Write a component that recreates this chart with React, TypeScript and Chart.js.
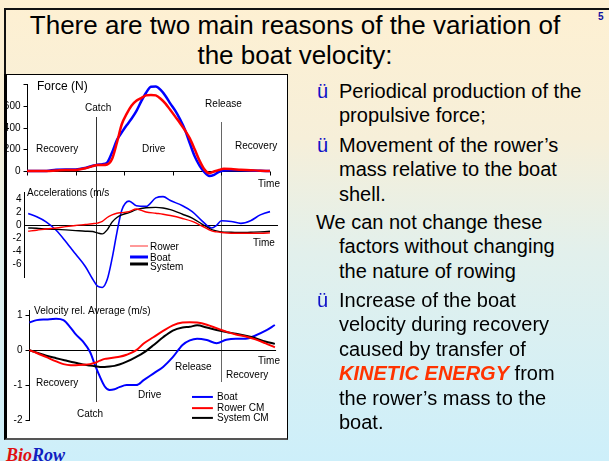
import React, { useEffect, useRef } from "react";
import { Chart, registerables } from "chart.js";
Chart.register(...registerables);

const FONT = '"Liberation Sans", Arial, Helvetica, sans-serif';

// ---------------- DATA ----------------
// Force (N) vs time (% of stroke cycle)
const forceT = [0, 8, 12, 16, 20, 24, 27, 29, 31, 33, 35, 37, 39, 41, 43, 45, 47, 49, 51, 53, 55, 57, 59, 61, 63, 65, 67, 69, 71, 73, 75, 77, 79, 81, 84, 88, 92, 96, 100];
const forceBlue = [0, 0, 12, 14, 14, 28, 48, 58, 62, 78, 170, 285, 355, 420, 480, 550, 640, 720, 775, 778, 745, 690, 620, 555, 475, 380, 255, 135, 50, -10, -45, -35, -8, 5, 8, 6, 4, 2, 0];
const forceRed = [0, 0, 5, 10, 10, 25, 45, 55, 55, 60, 110, 260, 430, 525, 600, 645, 670, 695, 700, 695, 665, 620, 560, 500, 440, 375, 300, 200, 95, 15, -20, -5, 10, 20, 18, 12, 8, 3, 0];
const forceTicks = [0, 200, 400, 600, 800];
const forceTickLabels = ["0", "200", "400", "600", ""];
const forceTimeTicks = [0, 20, 40, 60, 80, 100];

// Accelerations (m/s2)
const accelT = [0.5, 4, 8, 12, 16, 20, 24, 27, 29, 31, 33, 35, 37, 39, 42, 45, 49, 53, 56, 59, 64, 68, 72, 76, 78, 80, 84, 88, 92, 96, 100, 103];
const accelRower = [-1.0, -0.85, -0.65, -0.5, -0.3, -0.12, 0.03, 0.15, 0.25, 0.5, 1.1, 1.5, 1.75, 1.85, 2.0, 2.4, 1.95, 1.75, 1.6, 1.4, 0.95, 0.5, -0.2, -0.95, -1.1, -1.2, -1.3, -1.3, -1.3, -1.3, -1.25, -1.2];
const accelBoat = [1.7, 1.2, 0.4, -0.85, -2.6, -4.5, -6.4, -8.3, -9.4, -9.6, -8.4, -5.2, -1.2, 2.2, 3.6, 2.9, 2.8, 4.1, 4.3, 3.7, 2.9, 2.0, 0.6, -0.5, -0.1, 0.6, 0.5, 0.2, 0.6, 1.5, 2.0, 2.2];
const accelSystem = [-0.5, -0.55, -0.65, -0.72, -0.8, -0.9, -1.0, -1.05, -1.25, -1.4, -0.8, 0.4, 1.1, 1.5, 1.85, 2.3, 2.6, 2.65, 2.55, 2.3, 1.6, 1.0, 0.1, -0.75, -0.95, -1.1, -1.15, -1.2, -1.15, -1.1, -1.0, -0.9];
const accelTicks = [-6, -4, -2, 0, 2, 4];
const accelTickLabels = ["-6", "-4", "-2", "0", "2", "4"];

// Velocity relative to average (m/s)
const velT = [1, 4, 8, 12, 15, 18, 20, 23, 26, 28, 30, 32, 34, 36, 38, 41, 45, 48, 52, 56, 60, 64, 67, 70, 74, 78, 82, 86, 90, 94, 98, 102];
const velBoat = [0.79, 0.86, 0.88, 0.9, 0.86, 0.64, 0.46, 0.25, -0.06, -0.43, -0.76, -1.04, -1.14, -1.12, -1.06, -1.0, -1.0, -0.86, -0.67, -0.48, -0.2, 0.15, 0.28, 0.33, 0.29, 0.2, 0.3, 0.33, 0.33, 0.42, 0.55, 0.72];
const velRower = [0, -0.08, -0.2, -0.32, -0.4, -0.43, -0.43, -0.42, -0.4, -0.36, -0.3, -0.25, -0.23, -0.21, -0.19, -0.13, 0.0, 0.19, 0.37, 0.55, 0.71, 0.79, 0.8, 0.79, 0.73, 0.63, 0.53, 0.45, 0.39, 0.31, 0.2, 0.08];
const velSystem = [0, -0.07, -0.16, -0.23, -0.28, -0.33, -0.36, -0.41, -0.44, -0.46, -0.48, -0.48, -0.47, -0.45, -0.41, -0.33, -0.19, -0.07, 0.14, 0.37, 0.56, 0.65, 0.67, 0.71, 0.65, 0.58, 0.52, 0.47, 0.41, 0.34, 0.25, 0.18];
const velTicks = [-2, -1, 0, 1];
const velTickLabels = ["-2", "-1", "0", "1"];

const CATCH_T = 28.4;
const RELEASE_T = 79.8;

// ---------------- TYPES ----------------
type Series = { values: number[]; color: string; width: number };
type Note = { text: string; t: number; v: number; size?: number };
type VLine = { t: number; from: number; to: number; color: string };
type LegendItem = { text: string; color: string; width: number; v: number; tv: number };
type PanelCfg = {
  top: number;
  width: number;
  height: number;
  padding: { left: number; right: number; top: number; bottom: number };
  xMin: number;
  xMax: number;
  yMin: number;
  yMax: number;
  t: number[];
  series: Series[];
  axisT: number;
  axisFrom: number;
  axisTo: number;
  yTicks: number[];
  yTickLabels: string[];
  yTickLen: number;
  zeroFrom: number;
  zeroTo: number;
  xTicks: number[];
  xTickLen: number;
  vlines: VLine[];
  notes: Note[];
  legend?: { t0: number; t1: number; tText: number; items: LegendItem[] };
};

const PAD_X = { left: 20, right: 17 };

const panels: PanelCfg[] = [
  {
    top: 75, width: 280, height: 125,
    padding: { ...PAD_X, top: 9, bottom: 29 },
    xMin: 0, xMax: 100, yMin: 0, yMax: 800,
    t: forceT,
    series: [
      { values: forceRed, color: "#FF0000", width: 2.5 },
      { values: forceBlue, color: "#0000FF", width: 2.5 },
    ],
    axisT: 0, axisFrom: 0, axisTo: 800,
    yTicks: forceTicks, yTickLabels: forceTickLabels, yTickLen: 4,
    zeroFrom: 0, zeroTo: 100, xTicks: forceTimeTicks, xTickLen: 4,
    vlines: [
      { t: CATCH_T, from: 497, to: -175, color: "#333" },
      { t: RELEASE_T, from: 451, to: -175, color: "#666" },
    ],
    notes: [
      { text: "Force (N)", t: 4.1, v: 772, size: 12 },
      { text: "Catch", t: 23.9, v: 579 },
      { text: "Release", t: 73.3, v: 616 },
      { text: "Recovery", t: 3.7, v: 202 },
      { text: "Drive", t: 47.3, v: 202 },
      { text: "Recovery", t: 85.6, v: 230 },
      { text: "Time", t: 95.1, v: -120 },
    ],
  },
  {
    top: 180, width: 280, height: 125,
    padding: { ...PAD_X, top: 12, bottom: 28 },
    xMin: 0, xMax: 100, yMin: -8, yMax: 5,
    t: accelT,
    series: [
      { values: accelRower, color: "#FF0000", width: 1.4 },
      { values: accelSystem, color: "#000000", width: 1.4 },
      { values: accelBoat, color: "#0000FF", width: 1.6 },
    ],
    axisT: -1.2, axisFrom: -8, axisTo: 5,
    yTicks: accelTicks, yTickLabels: accelTickLabels, yTickLen: 0,
    zeroFrom: -0.8, zeroTo: 103.3, xTicks: [], xTickLen: 0,
    vlines: [
      { t: CATCH_T, from: 5.31, to: -11.21, color: "#333" },
      { t: RELEASE_T, from: 5.31, to: -11.21, color: "#666" },
    ],
    notes: [
      { text: "Accelerations (m/s", t: 0, v: 4.85 },
      { text: "Time", t: 93, v: -2.8 },
    ],
    legend: {
      t0: 42.4, t1: 49.8, tText: 50.6,
      items: [
        { text: "Rower", color: "#FF3333", width: 1, v: -3.26, tv: -3.41 },
        { text: "Boat", color: "#0000FF", width: 3, v: -4.94, tv: -5.09 },
        { text: "System", color: "#000000", width: 3, v: -6.01, tv: -6.47 },
      ],
    },
  },
  {
    top: 290, width: 280, height: 148,
    padding: { ...PAD_X, top: 20, bottom: 18 },
    xMin: 0, xMax: 100, yMin: -2, yMax: 1.15,
    t: velT,
    series: [
      { values: velRower, color: "#FF0000", width: 2 },
      { values: velSystem, color: "#000000", width: 2 },
      { values: velBoat, color: "#0000FF", width: 2 },
    ],
    axisT: 0.8, axisFrom: -2, axisTo: 1.15,
    yTicks: velTicks, yTickLabels: velTickLabels, yTickLen: 4,
    zeroFrom: 0.8, zeroTo: 102.5, xTicks: [], xTickLen: 0,
    vlines: [
      { t: CATCH_T, from: 1.494, to: -1.485, color: "#333" },
      { t: RELEASE_T, from: 1.494, to: -0.912, color: "#666" },
    ],
    notes: [
      { text: "Velocity rel. Average (m/s)", t: 2.9, v: 1.12 },
      { text: "Recovery", t: 3.7, v: -0.94 },
      { text: "Catch", t: 20.6, v: -1.83 },
      { text: "Drive", t: 45.7, v: -1.28 },
      { text: "Release", t: 60.9, v: -0.48 },
      { text: "Recovery", t: 81.9, v: -0.71 },
      { text: "Time", t: 95.1, v: -0.31 },
    ],
    legend: {
      t0: 67.9, t1: 76.5, tText: 78.2,
      items: [
        { text: "Boat", color: "#0000FF", width: 2, v: -1.34, tv: -1.34 },
        { text: "Rower CM", color: "#FF0000", width: 2, v: -1.66, tv: -1.66 },
        { text: "System CM", color: "#000000", width: 2, v: -1.94, tv: -1.94 },
      ],
    },
  },
];

function overlayPlugin(cfg: PanelCfg) {
  return {
    id: "overlay",
    beforeDatasetsDraw(chart: any) {
      const ctx = chart.ctx;
      const xs = chart.scales.x;
      const ys = chart.scales.y;
      const px = (t: number) => xs.getPixelForValue(t);
      const py = (v: number) => ys.getPixelForValue(v);
      ctx.save();
      ctx.lineWidth = 1;
      // catch / release lines
      for (const l of cfg.vlines) {
        const x = Math.round(px(l.t)) + 0.5;
        ctx.strokeStyle = l.color;
        ctx.beginPath();
        ctx.moveTo(x, Math.round(py(l.from)));
        ctx.lineTo(x, Math.round(py(l.to)));
        ctx.stroke();
      }
      // zero (time) line
      ctx.strokeStyle = "#000";
      const y0 = Math.round(py(0)) + 0.5;
      ctx.beginPath();
      ctx.moveTo(px(cfg.zeroFrom), y0);
      ctx.lineTo(px(cfg.zeroTo), y0);
      ctx.stroke();
      for (const tk of cfg.xTicks) {
        const x = Math.round(px(tk)) + 0.5;
        ctx.beginPath();
        ctx.moveTo(x, y0);
        ctx.lineTo(x, y0 + cfg.xTickLen);
        ctx.stroke();
      }
      // y axis
      const ax = Math.round(px(cfg.axisT)) + 0.5;
      ctx.beginPath();
      ctx.moveTo(ax, Math.round(py(cfg.axisTo)));
      ctx.lineTo(ax, Math.round(py(cfg.axisFrom)) + 1);
      ctx.stroke();
      ctx.fillStyle = "#000";
      ctx.font = `10px ${FONT}`;
      ctx.textAlign = "right";
      ctx.textBaseline = "middle";
      cfg.yTicks.forEach((v, i) => {
        const y = Math.round(py(v)) + 0.5;
        if (cfg.yTickLen > 0) {
          ctx.beginPath();
          ctx.moveTo(ax - cfg.yTickLen, y);
          ctx.lineTo(ax, y);
          ctx.stroke();
        }
        const lab = cfg.yTickLabels[i];
        if (lab) ctx.fillText(lab, ax - cfg.yTickLen - 3, y);
      });
      ctx.restore();
    },
    afterDatasetsDraw(chart: any) {
      const ctx = chart.ctx;
      const xs = chart.scales.x;
      const ys = chart.scales.y;
      const px = (t: number) => xs.getPixelForValue(t);
      const py = (v: number) => ys.getPixelForValue(v);
      ctx.save();
      ctx.fillStyle = "#000";
      ctx.textAlign = "left";
      ctx.textBaseline = "middle";
      for (const n of cfg.notes) {
        ctx.font = `${n.size || 10}px ${FONT}`;
        ctx.fillText(n.text, px(n.t), py(n.v));
      }
      if (cfg.legend) {
        const lg = cfg.legend;
        ctx.font = `10px ${FONT}`;
        for (const it of lg.items) {
          ctx.strokeStyle = it.color;
          ctx.lineWidth = it.width;
          const y = py(it.v);
          ctx.beginPath();
          ctx.moveTo(px(lg.t0), y);
          ctx.lineTo(px(lg.t1), y);
          ctx.stroke();
          ctx.fillStyle = "#000";
          ctx.fillText(it.text, px(lg.tText), py(it.tv));
        }
      }
      ctx.restore();
    },
  };
}

function Panel({ cfg }: { cfg: PanelCfg }) {
  const ref = useRef<HTMLCanvasElement | null>(null);
  useEffect(() => {
    if (!ref.current) return;
    const chart = new Chart(ref.current, {
      type: "line",
      data: {
        datasets: cfg.series.map((s) => ({
          data: cfg.t.map((t, i) => ({ x: t, y: s.values[i] })),
          borderColor: s.color,
          borderWidth: s.width,
          pointRadius: 0,
          fill: false,
          cubicInterpolationMode: "monotone" as const,
          clip: false as any,
        })),
      },
      options: {
        animation: false,
        responsive: false,
        events: [],
        layout: { padding: cfg.padding },
        plugins: { legend: { display: false }, tooltip: { enabled: false } },
        scales: {
          x: { type: "linear", display: false, min: cfg.xMin, max: cfg.xMax },
          y: { type: "linear", display: false, min: cfg.yMin, max: cfg.yMax },
        },
      },
      plugins: [overlayPlugin(cfg)],
    });
    return () => chart.destroy();
  }, [cfg]);
  return (
    <canvas
      ref={ref}
      width={cfg.width}
      height={cfg.height}
      style={{ position: "absolute", left: 7, top: cfg.top, width: cfg.width, height: cfg.height }}
    />
  );
}

const bullet = (
  <span style={{ position: "absolute", left: -22, top: 0, color: "#1010C8" }}>ü</span>
);

export default function App() {
  const para: React.CSSProperties = {
    position: "absolute",
    left: 339,
    fontSize: 20,
    lineHeight: "24.4px",
    whiteSpace: "nowrap",
    color: "#000",
  };
  return (
    <div
      style={{
        position: "fixed",
        left: 0,
        top: 0,
        width: 609,
        height: 461,
        overflow: "hidden",
        fontFamily: FONT,
        background: "linear-gradient(to bottom, #FEF0D2 0%, #F6EFD9 30%, #E2F0EC 55%, #CDEFFA 100%)",
      }}
    >
      {/* title frame */}
      <div style={{ position: "absolute", left: 4, top: 8, width: 605, height: 2, background: "#111" }} />
      <div style={{ position: "absolute", left: 4, top: 8, width: 2, height: 66, background: "#111" }} />
      <div
        style={{
          position: "absolute",
          left: 4,
          top: 10,
          width: 582,
          textAlign: "center",
          fontSize: 26,
          lineHeight: "30px",
          color: "#000",
          whiteSpace: "nowrap",
        }}
      >
        There are two main reasons of the variation of
        <br />
        the boat velocity:
      </div>
      <div style={{ position: "absolute", left: 598, top: 11, fontSize: 10, fontWeight: "bold", color: "#1010A0" }}>5</div>

      {/* chart panel */}
      <div
        style={{
          position: "absolute",
          left: 4,
          top: 74,
          width: 284,
          height: 366,
          boxSizing: "border-box",
          background: "#fff",
          borderTop: "1px solid #000",
          borderRight: "1px solid #000",
          borderBottom: "2px solid #555",
          borderLeft: "3px solid #000",
        }}
      />
      {panels.map((p, i) => (
        <Panel key={i} cfg={p} />
      ))}

      {/* right-hand text */}
      <div style={{ ...para, top: 79 }}>
        {bullet}
        Periodical production of the
        <br />
        propulsive force;
      </div>
      <div style={{ ...para, top: 133 }}>
        {bullet}
        Movement of the rower’s
        <br />
        mass relative to the boat
        <br />
        shell.
      </div>
      <div style={{ ...para, top: 210 }}>
        <span style={{ position: "relative", left: -23 }}>We can not change these</span>
        <br />
        factors without changing
        <br />
        the nature of rowing
      </div>
      <div style={{ ...para, top: 288 }}>
        {bullet}
        Increase of the boat
        <br />
        velocity during recovery
        <br />
        caused by transfer of
        <br />
        <span style={{ color: "#FF3300", fontWeight: "bold", fontStyle: "italic" }}>KINETIC ENERGY</span> from
        <br />
        the rower’s mass to the
        <br />
        boat.
      </div>

      {/* logo */}
      <div
        style={{
          position: "absolute",
          left: 6,
          top: 445,
          fontSize: 18,
          fontStyle: "italic",
          fontWeight: "bold",
          fontFamily: '"Liberation Serif", "DejaVu Serif", serif',
          lineHeight: "20px",
        }}
      >
        <span style={{ color: "#E01010" }}>Bio</span>
        <span style={{ color: "#1020C0" }}>Row</span>
      </div>
    </div>
  );
}
